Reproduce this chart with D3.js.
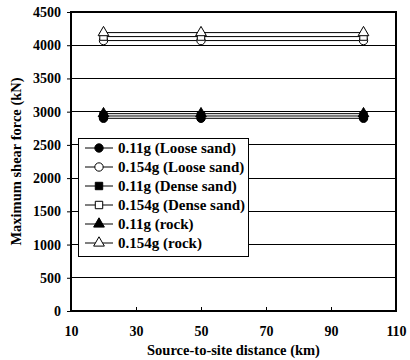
<!DOCTYPE html>
<html>
<head>
<meta charset="utf-8">
<script src="https://cdn.jsdelivr.net/npm/d3@7/dist/d3.min.js"></script>
<style>
  html, body { margin: 0; padding: 0; background: #fff; }
  svg { display: block; }
  text { font-family: "Liberation Serif", "Times New Roman", serif !important; font-weight: bold; fill: #000; }
</style>
</head>
<body>
<svg id="chart" width="410" height="360"></svg>
<script>
// Source-to-site distances (km)
const distances = [20, 50, 100];

// Maximum shear force (kN) for each ground motion level and soil type
const seriesNames = [
  "0.11g (Loose sand)",
  "0.154g (Loose sand)",
  "0.11g (Dense sand)",
  "0.154g (Dense sand)",
  "0.11g (rock)",
  "0.154g (rock)"
];
const loose011 = [2900, 2900, 2900];
const loose0154 = [4070, 4070, 4070];
const dense011 = [2935, 2935, 2935];
const dense0154 = [4130, 4130, 4130];
const rock011 = [2970, 2970, 2970];
const rock0154 = [4190, 4190, 4190];
const seriesValues = [loose011, loose0154, dense011, dense0154, rock011, rock0154];

// Axis ticks
const xTicks = [10, 30, 50, 70, 90, 110];
const yTicks = [0, 500, 1000, 1500, 2000, 2500, 3000, 3500, 4000, 4500];

const markerShapes = [d3.symbolCircle, d3.symbolCircle, d3.symbolSquare, d3.symbolSquare, d3.symbolTriangle, d3.symbolTriangle];
const markerFilled = [true, false, true, false, true, false];

const margin = { left: 71, right: 14, top: 12, bottom: 49 };
const W = 410, H = 360;
const svg = d3.select("#chart");

const x = d3.scaleLinear().domain([10, 110]).range([margin.left, W - margin.right]);
const y = d3.scaleLinear().domain([0, 4500]).range([H - margin.bottom, margin.top]);

// Horizontal grid lines
svg.append("g")
  .selectAll("line")
  .data(yTicks)
  .join("line")
  .attr("x1", x(10)).attr("x2", x(110))
  .attr("y1", d => y(d)).attr("y2", d => y(d))
  .attr("stroke", "#000").attr("stroke-width", 1)
  .attr("shape-rendering", "crispEdges");

// Plot frame
svg.append("rect")
  .attr("x", x(10)).attr("y", y(4500))
  .attr("width", x(110) - x(10)).attr("height", y(0) - y(4500))
  .attr("fill", "none").attr("stroke", "#000").attr("stroke-width", 1.2)
  .attr("shape-rendering", "crispEdges");

// Y axis
const yAxis = d3.axisLeft(y).tickValues(yTicks).tickSize(4).tickPadding(6).tickFormat(d3.format("d"));
const gy = svg.append("g").attr("transform", `translate(${x(10)},0)`).call(yAxis)
  .attr("font-family", null).attr("font-size", null);
gy.select(".domain").remove();
gy.selectAll("text").style("font-size", "14px");

// X axis (ticks point inward)
const xAxis = d3.axisBottom(x).tickValues(xTicks).tickSize(-4).tickPadding(15).tickFormat(d3.format("d"));
const gx = svg.append("g").attr("transform", `translate(0,${y(0)})`).call(xAxis)
  .attr("font-family", null).attr("font-size", null);
gx.select(".domain").remove();
gx.selectAll("text").style("font-size", "14px");

// Axis titles
svg.append("text")
  .attr("x", (x(10) + x(110)) / 2).attr("y", 355)
  .attr("text-anchor", "middle").style("font-size", "14.5px")
  .text("Source-to-site distance (km)");
svg.append("text")
  .attr("transform", `translate(21,${(y(0) + y(4500)) / 2}) rotate(-90)`)
  .attr("text-anchor", "middle").style("font-size", "14.5px")
  .text("Maximum shear force (kN)");

// Series lines and markers
const line = d3.line().x((d, i) => x(distances[i])).y(d => y(d));
const series = svg.append("g");
seriesValues.forEach((vals, k) => {
  series.append("path")
    .attr("d", line(vals))
    .attr("fill", "none").attr("stroke", "#000").attr("stroke-width", 1);
  series.selectAll(null)
    .data(vals)
    .join("path")
    .attr("transform", (d, i) => `translate(${x(distances[i])},${y(d)})`)
    .attr("d", d3.symbol().type(markerShapes[k]).size(markerShapes[k] === d3.symbolTriangle ? 50 : 55))
    .attr("fill", markerFilled[k] ? "#000" : "#fff")
    .attr("stroke", "#000").attr("stroke-width", 1);
});

// Legend
const lg = svg.append("g");
lg.append("rect")
  .attr("x", 78).attr("y", 138).attr("width", 170).attr("height", 118)
  .attr("fill", "#fff").attr("stroke", "#000").attr("stroke-width", 1)
  .attr("shape-rendering", "crispEdges");
seriesNames.forEach((name, k) => {
  const yy = 148 + k * 19;
  lg.append("line")
    .attr("x1", 85).attr("x2", 113).attr("y1", yy).attr("y2", yy)
    .attr("stroke", "#000").attr("stroke-width", 1);
  lg.append("path")
    .attr("transform", `translate(99,${yy})`)
    .attr("d", d3.symbol().type(markerShapes[k]).size(markerShapes[k] === d3.symbolTriangle ? 50 : 55))
    .attr("fill", markerFilled[k] ? "#000" : "#fff")
    .attr("stroke", "#000").attr("stroke-width", 1);
  lg.append("text")
    .attr("x", 118).attr("y", yy + 5)
    .style("font-size", "15px")
    .text(name);
});
</script>
</body>
</html>
